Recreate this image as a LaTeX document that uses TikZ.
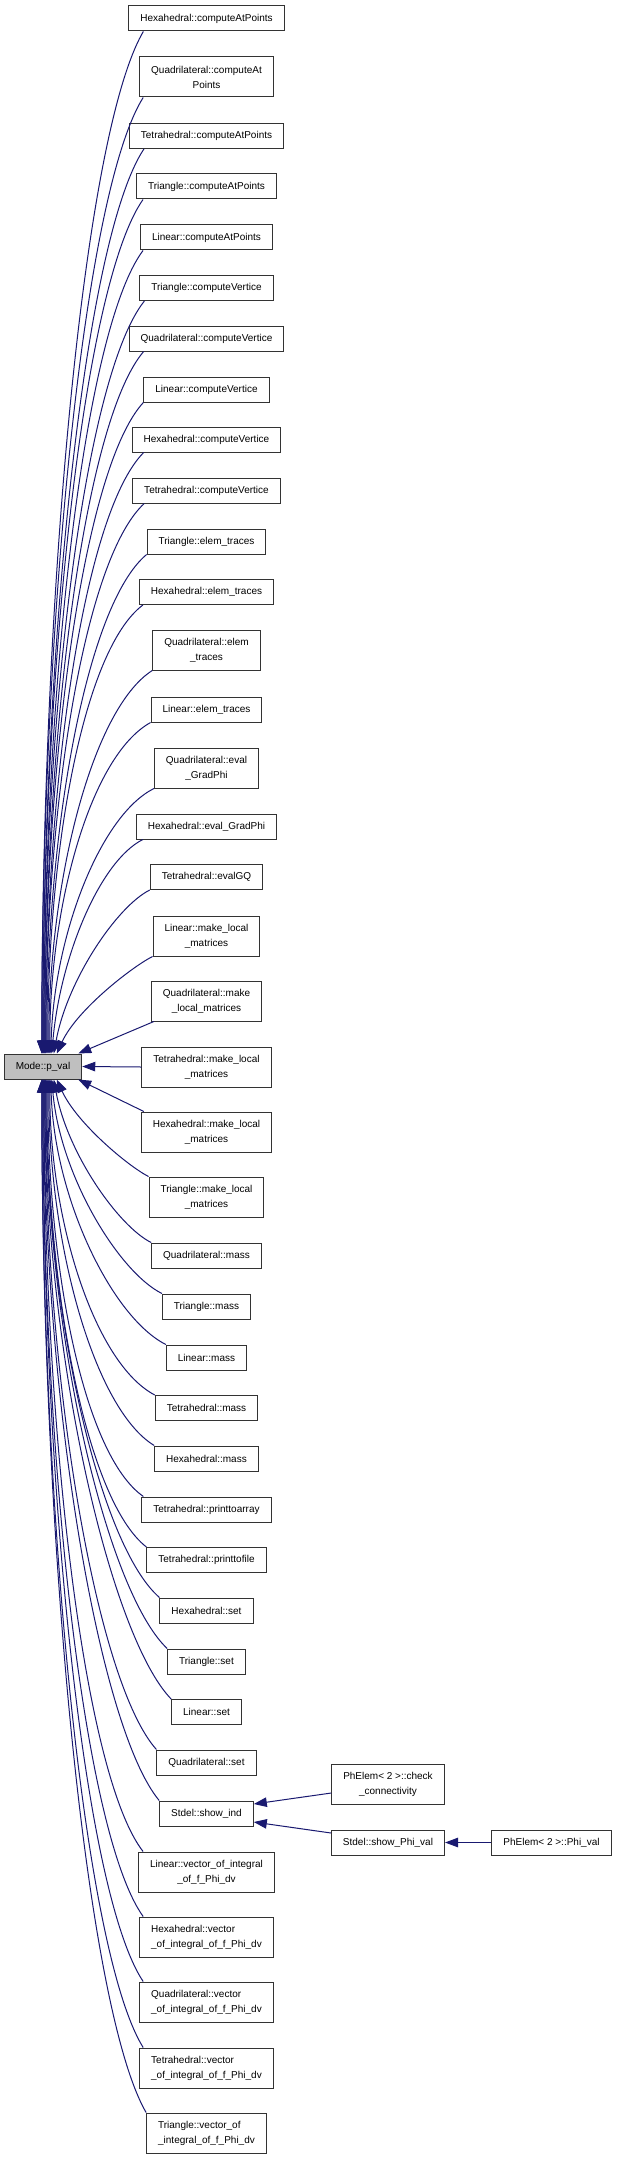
\documentclass[tikz,border=0pt]{standalone}
\usepackage{fontspec}
\setmainfont{Liberation Sans}
\usetikzlibrary{arrows.meta}

\definecolor{edgeblue}{RGB}{25,25,112}
\definecolor{focusgray}{RGB}{191,191,191}

\tikzset{
	fn/.style={draw=black!80, line width=1pt, rectangle, inner xsep=11.5pt, inner ysep=2pt,
		minimum height=25pt, font=\fontsize{10}{15}\selectfont, align=center},
	fntwo/.style={fn, minimum height=40pt},
	fnleft/.style={fntwo, align=left},
	focus/.style={fn, fill=focusgray},
	call/.style={edgeblue, line width=1pt, -{Triangle[length=13pt,width=9.5pt]}},
}

\begin{document}
\begin{tikzpicture}[x=1pt, y=-1pt]
	
	\useasboundingbox (0,0) rectangle (616,2159);
	
	\def\xMid{206.5}
	\def\xRight{388}
	\def\xFar{551.5}
	\def\yTopP{1054}
	\def\yBotP{1079}
	
	% ── Nodo central ───────────────────────────────────────────────
	\node[focus] (pval) at (43,1066.5) {Mode::p\_val};
	
	% ── Columna de llamadores ──────────────────────────────────────
	\node[fn] (hexCAP) at (\xMid,18.5) {Hexahedral::computeAtPoints};
	\node[fntwo] (quadCAP) at (\xMid,77) {Quadrilateral::computeAt\\Points};
	\node[fn] (tetCAP) at (\xMid,136) {Tetrahedral::computeAtPoints};
	\node[fn] (triCAP) at (\xMid,186.5) {Triangle::computeAtPoints};
	\node[fn] (linCAP) at (\xMid,237.5) {Linear::computeAtPoints};
	\node[fn] (triCV) at (\xMid,288) {Triangle::computeVertice};
	\node[fn] (quadCV) at (\xMid,338.5) {Quadrilateral::computeVertice};
	\node[fn] (linCV) at (\xMid,389.5) {Linear::computeVertice};
	\node[fn] (hexCV) at (\xMid,439.5) {Hexahedral::computeVertice};
	\node[fn] (tetCV) at (\xMid,490.5) {Tetrahedral::computeVertice};
	\node[fn] (triET) at (\xMid,541.5) {Triangle::elem\_traces};
	\node[fn] (hexET) at (\xMid,592) {Hexahedral::elem\_traces};
	\node[fntwo] (quadET) at (\xMid,650) {Quadrilateral::elem\\\_traces};
	\node[fn] (linET) at (\xMid,709.5) {Linear::elem\_traces};
	\node[fntwo] (quadEG) at (\xMid,768) {Quadrilateral::eval\\\_GradPhi};
	\node[fn] (hexEG) at (\xMid,826.5) {Hexahedral::eval\_GradPhi};
	\node[fn] (tetGQ) at (\xMid,877) {Tetrahedral::evalGQ};
	\node[fntwo] (linML) at (\xMid,936) {Linear::make\_local\\\_matrices};
	\node[fntwo] (quadML) at (\xMid,1001) {Quadrilateral::make\\\_local\_matrices};
	\node[fntwo] (tetML) at (\xMid,1067) {Tetrahedral::make\_local\\\_matrices};
	\node[fntwo] (hexML) at (\xMid,1132) {Hexahedral::make\_local\\\_matrices};
	\node[fntwo] (triML) at (\xMid,1197) {Triangle::make\_local\\\_matrices};
	\node[fn] (quadMass) at (\xMid,1255.5) {Quadrilateral::mass};
	\node[fn] (triMass) at (\xMid,1306.5) {Triangle::mass};
	\node[fn] (linMass) at (\xMid,1357.5) {Linear::mass};
	\node[fn] (tetMass) at (\xMid,1408) {Tetrahedral::mass};
	\node[fn] (hexMass) at (\xMid,1458.5) {Hexahedral::mass};
	\node[fn] (tetPTA) at (\xMid,1509.5) {Tetrahedral::printtoarray};
	\node[fn] (tetPTF) at (\xMid,1560) {Tetrahedral::printtofile};
	\node[fn] (hexSet) at (\xMid,1610.5) {Hexahedral::set};
	\node[fn] (triSet) at (\xMid,1661.5) {Triangle::set};
	\node[fn] (linSet) at (\xMid,1712) {Linear::set};
	\node[fn] (quadSet) at (\xMid,1762.5) {Quadrilateral::set};
	\node[fn] (showInd) at (\xMid,1813.5) {Stdel::show\_ind};
	\node[fntwo] (linVec) at (\xMid,1872) {Linear::vector\_of\_integral\\\_of\_f\_Phi\_dv};
	\node[fnleft] (hexVec) at (\xMid,1937) {Hexahedral::vector\\\_of\_integral\_of\_f\_Phi\_dv};
	\node[fnleft] (quadVec) at (\xMid,2002) {Quadrilateral::vector\\\_of\_integral\_of\_f\_Phi\_dv};
	\node[fnleft] (tetVec) at (\xMid,2068) {Tetrahedral::vector\\\_of\_integral\_of\_f\_Phi\_dv};
	\node[fnleft] (triVec) at (\xMid,2133) {Triangle::vector\_of\\\_integral\_of\_f\_Phi\_dv};
	
	% ── Columnas derechas ──────────────────────────────────────────
	\node[fntwo] (checkConn) at (\xRight,1784) {PhElem< 2 >::check\\\_connectivity};
	\node[fn] (showPhi) at (\xRight,1842.5) {Stdel::show\_Phi\_val};
	\node[fn] (phiVal) at (\xFar,1842.5) {PhElem< 2 >::Phi\_val};
	
	% ── Llamadas desde arriba ──────────────────────────────────────
	\foreach \n/\dx/\ex/\ys in {hexCAP/15/38/31, quadCAP/4/38/97, tetCAP/15/39/149,
		triCAP/7/39/199, linCAP/3/40/250, triCV/5/40/301, quadCV/15/41/351,
		linCV/0/41/402, hexCV/12/42/452, tetCV/12/42/503, triET/0/43/554,
		hexET/4/44/605, quadET/0/45/670, linET/0/46/722, quadEG/0/47/788,
		hexEG/7/48/839, tetGQ/0/50/890, linML/0/53/956}{
		\pgfmathsetmacro{\dist}{\yTopP-\ys}
		\pgfmathsetmacro{\frac}{min(1,\dist/300)}
		\pgfmathsetmacro{\pullx}{60*\frac}
		\pgfmathsetmacro{\pully}{0.1*\dist}
		\pgfmathsetmacro{\bendx}{30*(1-\frac)}
		\pgfmathsetmacro{\bendy}{0.45*\dist}
		\draw[call] ([xshift=\dx pt]\n.south west) .. controls +(-\pullx,\pully) and +(\bendx,-\bendy) .. ([xshift=\ex pt]pval.north west);
	}
	
	% ── Llamadas directas ──────────────────────────────────────────
	\draw[call] ([xshift=3pt]quadML.south west) -- ([xshift=-4pt]pval.north east);
	\draw[call] (tetML.west) -- (pval.east);
	\draw[call] ([xshift=3pt]hexML.north west) -- ([xshift=-4pt]pval.south east);
	
	% ── Llamadas desde abajo ───────────────────────────────────────
	\foreach \n/\dx/\ex/\ys in {triML/0/53/1177, quadMass/0/50/1243, triMass/0/48/1294,
		linMass/0/47/1345, tetMass/0/46/1395, hexMass/0/45/1446, tetPTA/2/44/1497,
		tetPTF/0/43/1547, hexSet/0/42/1598, triSet/0/42/1649, linSet/0/41/1699,
		quadSet/0/41/1750, showInd/0/40/1801, linVec/5/40/1852, hexVec/4/39/1917,
		quadVec/4/39/1982, tetVec/4/38/2048, triVec/0/38/2113}{
		\pgfmathsetmacro{\dist}{\ys-\yBotP}
		\pgfmathsetmacro{\frac}{min(1,\dist/300)}
		\pgfmathsetmacro{\pullx}{60*\frac}
		\pgfmathsetmacro{\pully}{0.1*\dist}
		\pgfmathsetmacro{\bendx}{30*(1-\frac)}
		\pgfmathsetmacro{\bendy}{0.45*\dist}
		\draw[call] ([xshift=\dx pt]\n.north west) .. controls +(-\pullx,-\pully) and +(\bendx,\bendy) .. ([xshift=\ex pt]pval.south west);
	}
	
	% ── Cadena derecha ─────────────────────────────────────────────
	\draw[call] ([yshift=-9pt]checkConn.west) -- ([yshift=9.5pt]showInd.east);
	\draw[call] ([yshift=9.5pt]showPhi.west) -- ([yshift=-8.5pt]showInd.east);
	\draw[call] (phiVal.west) -- (showPhi.east);
	
\end{tikzpicture}
\end{document}
